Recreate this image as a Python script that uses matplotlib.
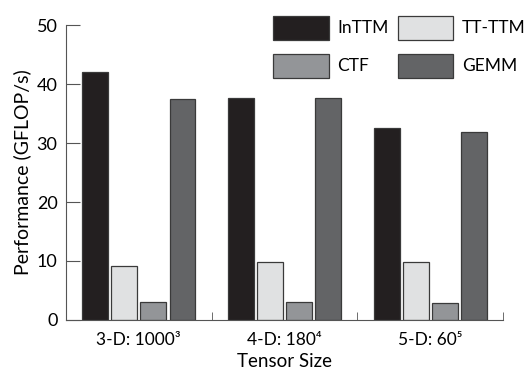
import numpy as np
import matplotlib
matplotlib.use('Agg')
from matplotlib import pyplot as plt

plt.rcParams['font.family'] = ['Lato', 'DejaVu Sans']

# data
groups = ['3-D: 1000³', '4-D: 180⁴', '5-D: 60⁵']
series = ['InTTM', 'TT-TTM', 'CTF', 'GEMM']
inttm = [42.1, 37.6, 32.6]
ttttm = [9.2, 9.8, 9.8]
ctf = [3.1, 3.0, 2.8]
gemm = [37.4, 37.6, 31.9]
colors = ['#231f20', '#e0e1e2', '#939598', '#636466']

fig = plt.figure(figsize=(5.27, 3.71), dpi=100)
ax = fig.add_axes([0.125, 0.1375, 0.83, 0.795])

x = np.arange(len(groups))
w = 0.178
offs = [-0.3, -0.1, 0.1, 0.3]
handles = []
for vals, off, c, lab in zip([inttm, ttttm, ctf, gemm], offs, colors, series):
    b = ax.bar(x + off, vals, w, color=c, edgecolor='#3a3a3a', linewidth=0.9, label=lab)
    handles.append(b)

ax.set_xlim(-0.5, 2.5)
ax.set_ylim(0, 50)
ax.set_yticks(np.arange(0, 51, 10))
ax.set_xticks(x)
ax.set_xticklabels(groups, fontsize=12.5)
ax.set_xticks([0.5, 1.5, 2.5], minor=True)
ax.tick_params(axis='x', which='major', length=0, pad=9)
ax.tick_params(axis='x', which='minor', direction='in', length=6, color='#555555')
ax.tick_params(axis='y', direction='in', length=10, labelsize=13, color='#555555', pad=6)
for s in ['top', 'right']:
    ax.spines[s].set_visible(False)
for s in ['left', 'bottom']:
    ax.spines[s].set_color('#555555')
ax.set_ylabel('Performance (GFLOP/s)', fontsize=14, labelpad=4)
ax.set_xlabel('Tensor Size', fontsize=13.5, labelpad=3)

# legend order: row1 InTTM, TT-TTM ; row2 CTF, GEMM
order = [0, 2, 1, 3]
leg = fig.legend([handles[i] for i in order], [series[i] for i in order],
                 ncol=2, loc='upper right', bbox_to_anchor=(1.027, 1.0),
                 frameon=False, fontsize=12.5, handlelength=3.2, handleheight=1.75,
                 handletextpad=0.5, columnspacing=0.5, labelspacing=0.8)

plt.savefig('out.png', dpi=100)
